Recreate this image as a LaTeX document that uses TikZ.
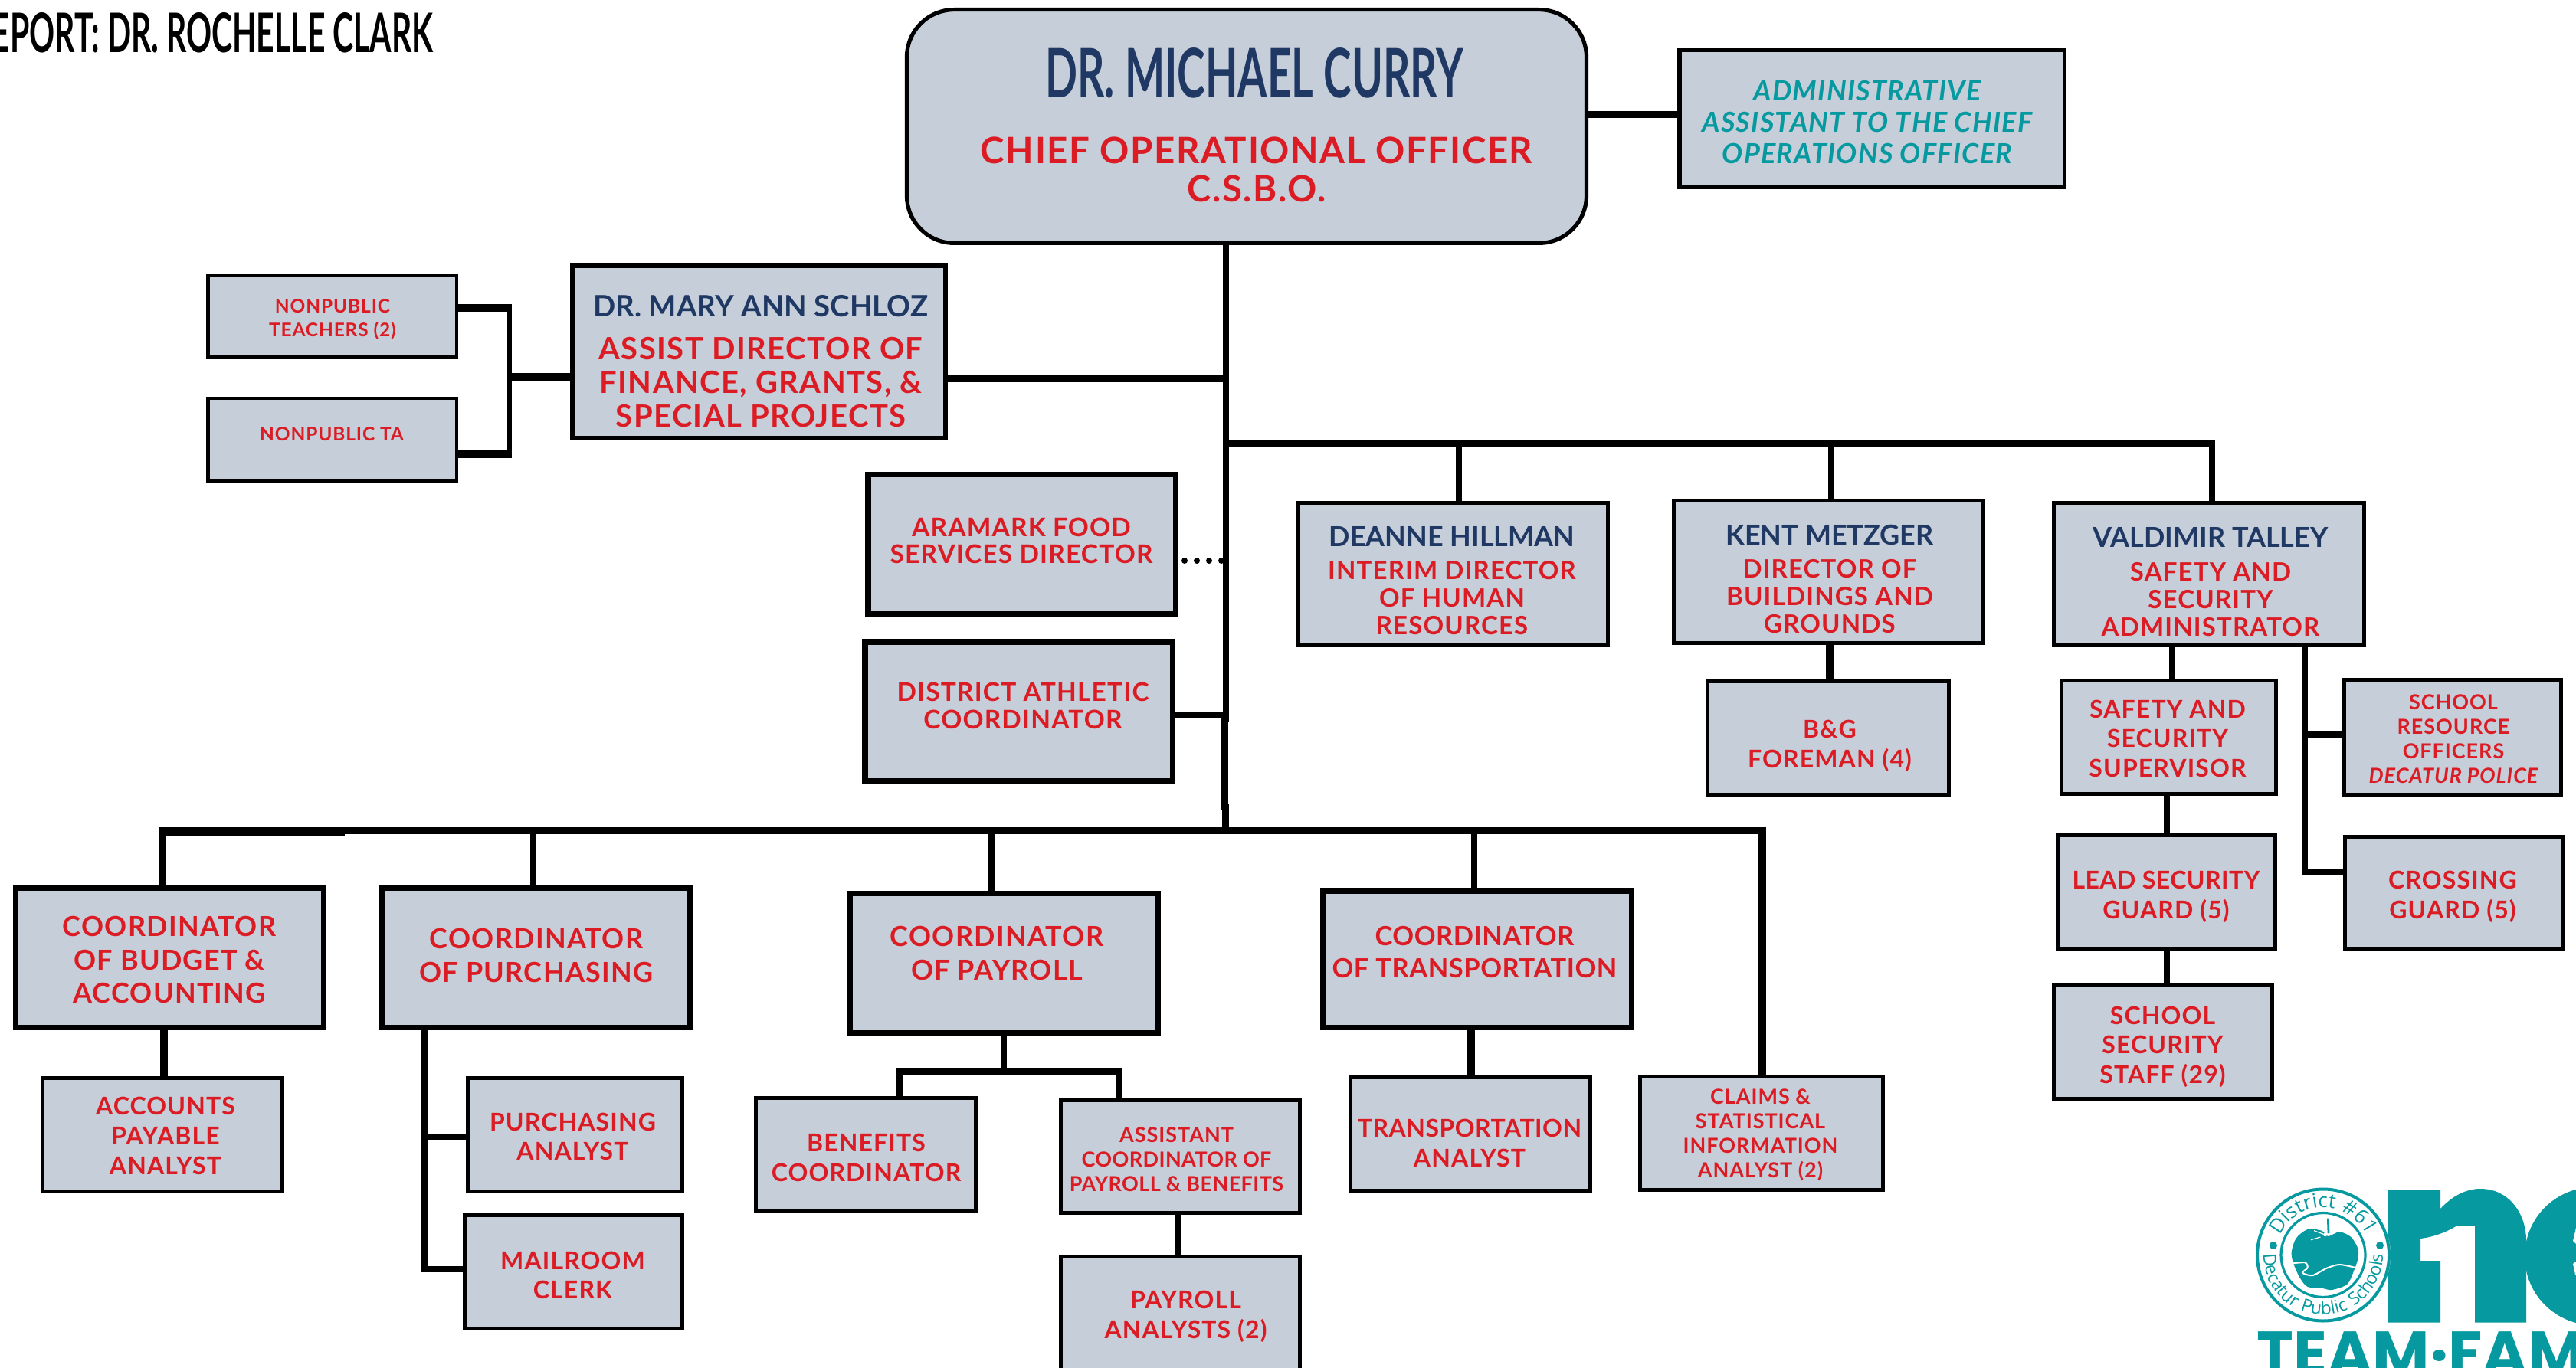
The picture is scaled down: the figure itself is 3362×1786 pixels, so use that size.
\documentclass[tikz,border=0pt]{standalone}
\usepackage{fontspec}
\usepackage{graphicx}
\usetikzlibrary{decorations.text}
\setmainfont{Lato}
\newfontfamily\lat[LetterSpace=3.5]{Lato}
\newfontfamily\lats[LetterSpace=1.5]{Lato}
\newfontfamily\latn{Lato}
\newfontfamily\logofont[LetterSpace=9]{Open Sans}
\newfontfamily\popb{Poppins}[BoldFont=Poppins Bold]
\definecolor{boxfill}{HTML}{C6CFD9}
\definecolor{crimson}{HTML}{DC1C24}
\definecolor{navy}{HTML}{1F3864}
\definecolor{tealc}{HTML}{069AA0}
\tikzset{
  orgbox/.style={draw=black,fill=boxfill,inner sep=0pt,text=crimson,rectangle},
  wire/.style={draw=black,line width=#1*0.5pt,line cap=butt,line join=miter},
}
\makeatletter
% \bx{name}{x1,y1,x2,y2,lw}{cx,cy,em,pitch}{opts}{lines}
\newcommand\bx[5]{\bxa{#1}#2;#3;{#4}{#5}}
\def\bxa#1#2,#3,#4,#5,#6;{\def\bnm{#1}\def\bxl{#2}\def\byt{#3}\def\bxr{#4}\def\byb{#5}\def\blw{#6}\bxb}
\def\bxb#1,#2,#3,#4;#5#6{%
  \pgfmathsetmacro\bcx{(\bxl+\bxr)/2}%
  \pgfmathsetmacro\bcy{(\byt+\byb)/2}%
  \pgfmathsetmacro\bw{(\bxr-\bxl-\blw)/2}%
  \pgfmathsetmacro\bh{(\byb-\byt-\blw)/2}%
  \pgfmathsetmacro\bdx{#1-\bcx}%
  \pgfmathsetmacro\braise{(\bcy-#2)/2-(0.608*#3-0.2*#4)/2-0.75}%
  \pgfmathsetmacro\bfs{#3/2}%
  \pgfmathsetmacro\bbl{#4/2}%
  \node[orgbox,line width=\blw*0.5pt,minimum width=\bw pt,minimum height=\bh pt,#5] (\bnm) at (\bcx,\bcy)
   {\fontsize{\bfs pt}{\bbl pt}\lat\bfseries\raisebox{\braise pt}[0pt][0pt]{\makebox[0pt]{\hspace*{\bdx pt}\begin{tabular}{@{}c@{}}#6\end{tabular}}}};%
}
\makeatother
\newcommand\nmc[2]{{\fontsize{#1}{#1}\latn\mdseries\bfseries\color{navy}#2}}
\newcommand\tg[1]{{\lats\bfseries #1}}
\begin{document}
\begin{tikzpicture}[x=0.5pt,y=-0.5pt]
\clip (0,0) rectangle (3362,1786);
\fill[white] (0,0) rectangle (3362,1786);
% header
\node[anchor=south east,inner sep=0pt] (hdr) at (566,69) {\scalebox{0.575}[1]{\fontsize{35.6pt}{36pt}\latn\bfseries REPORT: DR. ROCHELLE CLARK}};
% boxes
\node[orgbox,rounded corners=31pt,line width=2.6pt,minimum width=443.5pt,minimum height=152.4pt] (curry) at (1627,165) {};
\node[inner sep=0pt,text=navy] (curryname) at (1637,95.5) {\resizebox{273pt}{32.5pt}{\latn\bfseries DR. MICHAEL CURRY}};
\node[inner sep=0pt,text=crimson,align=center,font=\fontsize{23.7pt}{25pt}\lat\bfseries] (curryrole) at (1640,221) {CHIEF OPERATIONAL OFFICER\\C.S.B.O.};
\bx{admin}{2189,63,2697,247,5.5}{2437,158,36,41}{text=tealc}{\itshape ADMINISTRATIVE\\\itshape ASSISTANT TO THE CHIEF\\\itshape OPERATIONS OFFICER}
\bx{schloz}{744,344,1237,575,6}{993,470,40,44}{}{\nmc{19.2pt}{DR. MARY ANN SCHLOZ}\\[6pt]ASSIST DIRECTOR OF\\FINANCE, GRANTS, \&\\SPECIAL PROJECTS}
\bx{npt}{269,358,598,469,4.5}{434,413.5,24.5,31}{}{NONPUBLIC\\TEACHERS (2)}
\bx{npta}{269,518,598,630,4.5}{433,565,24.5,31}{}{NONPUBLIC TA}
\bx{aramark}{1129,616,1538,805.5,7.5}{1333,705,33.5,35.5}{}{ARAMARK FOOD\\SERVICES DIRECTOR}
\bx{athletic}{1125,834,1534,1023,7.5}{1335,920.5,33.5,35.5}{}{DISTRICT ATHLETIC\\COORDINATOR}
\bx{hillman}{1691.5,654,2101,845,5}{1895,758,33,36}{}{\nmc{18pt}{DEANNE HILLMAN}\\[3.5pt]INTERIM DIRECTOR\\OF HUMAN\\RESOURCES}
\bx{metzger}{2182,651,2591,842,5}{2388,756,33,36}{}{\nmc{18pt}{KENT METZGER}\\[3.5pt]DIRECTOR OF\\BUILDINGS AND\\GROUNDS}
\bx{talley}{2678,654,3088,845,5}{2885,759.5,33,36}{}{\nmc{18pt}{VALDIMIR TALLEY}\\[4pt]SAFETY AND\\SECURITY\\ADMINISTRATOR}
\bx{bg}{2226,887,2546,1040,5}{2388,971,32,39}{}{B\&G\\FOREMAN (4)}
\bx{sup}{2688,886,2973,1039,5}{2829,963.5,32,38.5}{}{SAFETY AND\\SECURITY\\SUPERVISOR}
\bx{lead}{2683,1088,2972,1241,5}{2827,1167.5,32,39}{}{\tg{LEAD SECURITY}\\GUARD (5)}
\bx{staff}{2678,1284,2968,1437,5}{2822.5,1363.5,32,38.5}{}{SCHOOL\\SECURITY\\STAFF (29)}
\bx{sro}{3057,885,3345,1040,5}{3202,964,27,32}{}{SCHOOL\\RESOURCE\\OFFICERS\\\itshape DECATUR POLICE}
\bx{cross}{3058,1090,3348,1241,5}{3201,1168,32,39}{}{CROSSING\\GUARD (5)}
\bx{budget}{17,1156,426,1345,7}{221,1251.5,36,43.5}{}{COORDINATOR\\OF BUDGET \&\\ACCOUNTING}
\bx{purch}{495,1156,904,1345,7}{700,1245.5,36,43.5}{}{COORDINATOR\\OF PURCHASING}
\bx{payroll}{1106,1163,1515,1352,7}{1301,1242.5,36,43.5}{}{COORDINATOR\\OF PAYROLL}
\bx{transp}{1723,1159,2133,1345,7.5}{1924.5,1241.5,34.5,42}{}{\tg{COORDINATOR}\\\tg{OF TRANSPORTATION}}
\bx{accts}{53,1405,371,1558,5}{216,1482,32,39}{}{ACCOUNTS\\PAYABLE\\ANALYST}
\bx{panalyst}{608,1405,893,1558,5}{747.5,1483,32,38}{}{PURCHASING\\ANALYST}
\bx{mail}{604,1584,893,1737,5}{747.5,1664,32,38}{}{MAILROOM\\CLERK}
\bx{benefits}{984,1431,1276,1584,5}{1130.5,1510.5,32,39}{}{BENEFITS\\COORDINATOR}
\bx{asst}{1382,1434,1699,1586,5}{1535.5,1513,27,32}{}{ASSISTANT\\\tg{COORDINATOR OF}\\\tg{PAYROLL \& BENEFITS}}
\bx{panalysts}{1382,1638,1699,1792,5}{1547.5,1715.5,32,39}{}{PAYROLL\\ANALYSTS (2)}
\bx{tanalyst}{1760,1404,2078,1557,5}{1918,1492,32,39}{}{\tg{TRANSPORTATION}\\ANALYST}
\bx{claims}{2138,1403,2460,1556,5}{2297.5,1478.5,27,32}{}{CLAIMS \&\\STATISTICAL\\INFORMATION\\ANALYST (2)}
% connectors
\draw[wire=9] (curry.east |- 0,150) -- (admin.west |- 0,150);
\draw[wire=8] (curry.south -| 1600,0) -- (1600,942);
\draw[wire=10] (1598,930) -- (1598,1058);
\draw[wire=9] (1599,1050) -- (1599,1089);
\draw[wire=9] (schloz.east |- 0,495) -- (1604,495);
\draw[wire=9] (athletic.east |- 0,933) -- (1604,933);
\draw[black,line width=4pt,line cap=round,dash pattern=on 0pt off 8pt] (aramark.east |- 0,732) ++(8,0) -- (1596,732);
\draw[wire=8.6] (1596,579.5) -- (2891,579.5);
\draw[wire=8] (1904,575) -- (hillman.north -| 1904,0);
\draw[wire=8] (2390,575) -- (metzger.north -| 2390,0);
\draw[wire=8] (2887,575) -- (talley.north -| 2887,0);
\draw[wire=10] (metzger.south -| 2388,0) -- (bg.north -| 2388,0);
\draw[wire=7] (talley.south -| 2834.5,0) -- (sup.north -| 2834.5,0);
\draw[wire=8] (sup.south -| 2828,0) -- (lead.north -| 2828,0);
\draw[wire=8] (lead.south -| 2828,0) -- (staff.north -| 2828,0);
\draw[wire=8] (talley.south -| 3008,0) -- (3008,1142);
\draw[wire=8] (3008,959) -- (sro.west |- 0,959);
\draw[wire=9] (3004,1138) -- (cross.west |- 0,1138);
\draw[wire=10] (npt.east |- 0,402) -- (668,402);
\draw[wire=10] (npta.east |- 0,593) -- (668,593);
\draw[wire=6] (665,397) -- (665,598);
\draw[wire=10] (664,492) -- (schloz.west |- 0,492);
% lower bar
\draw[wire=9] (208,1084.5) -- (2304,1084.5);
\draw[wire=11] (208,1085.5) -- (450,1085.5);
\draw[wire=8] (212,1080) -- (budget.north -| 212,0);
\draw[wire=8] (696,1080) -- (purch.north -| 696,0);
\draw[wire=8] (1294,1080) -- (payroll.north -| 1294,0);
\draw[wire=8] (1923.5,1080) -- (transp.north -| 1923.5,0);
\draw[wire=11] (2299,1080) -- (claims.north -| 2299,0);
\draw[wire=10] (budget.south -| 213.6,0) -- (accts.north -| 213.6,0);
\draw[wire=10] (purch.south -| 554,0) -- (554,1661);
\draw[wire=7] (554,1484) -- (panalyst.west |- 0,1484);
\draw[wire=8] (549,1657) -- (mail.west |- 0,1657);
\draw[wire=8] (payroll.south -| 1310,0) -- (1310,1398);
\draw[wire=9] (1170,1398) -- (1464,1398);
\draw[wire=8] (1174,1394) -- (benefits.north -| 1174,0);
\draw[wire=8] (1460,1394) -- (asst.north -| 1460,0);
\draw[wire=8] (asst.south -| 1537,0) -- (panalysts.north -| 1537,0);
\draw[wire=10] (transp.south -| 1920,0) -- (tanalyst.north -| 1920,0);
% logo
\fill[tealc] (3117,1553) -- (3185,1553) -- (3185,1578) .. controls (3200,1562) and (3218,1552) .. (3237,1552) .. controls (3275,1552) and (3297,1585) .. (3297,1620) -- (3297,1726.5) -- (3230,1726.5) -- (3230,1600) -- (3207,1600) .. controls (3190,1610) and (3175,1615) .. (3159,1617) -- (3159,1646) -- (3185,1646) -- (3185,1726.5) -- (3117,1726.5) -- cycle;
\fill[tealc] (3385,1640) circle[radius=90];
\fill[white] (3362,1603) -- (3358,1620) -- (3362,1624) -- cycle;
\fill[white] (3362,1647) -- (3358,1650) -- (3361,1664) -- (3362,1664) -- cycle;
\fill[white] (3032,1638.5) circle[radius=88];
\draw[tealc,line width=2pt] (3032,1638.5) circle[radius=86];
\draw[tealc,line width=1.6pt] (3032,1638.5) circle[radius=55];
\fill[tealc] (2967,1626) circle[radius=5] (3106,1626) circle[radius=5];
\path[decorate,decoration={text along path,text align=center,text={|\logofont\fontsize{13pt}{13pt}\selectfont\color{tealc}|District {\#}61}}] (3032,1638.5) ++(195:62) arc[start angle=195,end angle=345,radius=62];
\path[decorate,decoration={text along path,text align=center,text={|\logofont\fontsize{11.5pt}{12pt}\selectfont\color{tealc}|Decatur Public Schools}}] (3032,1638.5) ++(178:78) arc[start angle=178,end angle=2,radius=78];
\begin{scope}[xshift=1470pt,yshift=-770pt,x=0.16667pt,y=-0.16667pt]
\fill[tealc] plot[smooth cycle] coordinates {(170,230)(215,195)(270,200)(295,222)(340,205)(385,225)(412,270)(412,310)(395,360)(370,410)(310,432)(270,425)(215,420)(185,385)(160,330)(152,285)};
\draw[white,line width=1pt] plot[smooth] coordinates {(158,328)(205,325)(215,345)(195,365)(235,375)(290,347)(340,333)(402,345)};
\draw[tealc,line width=1.4pt] (295,152) -- (297,210);
\draw[white,line width=0.6pt] (240,200) -- (280,215) (228,236) -- (265,225);
\fill[white] (284,216) circle[radius=7];
\end{scope}
\node[anchor=base west,inner sep=0pt,text=tealc] (team) at (2945,1795) {\fontsize{40.5pt}{41pt}\popb\bfseries TEAM·FAM};
\end{tikzpicture}
\end{document}
